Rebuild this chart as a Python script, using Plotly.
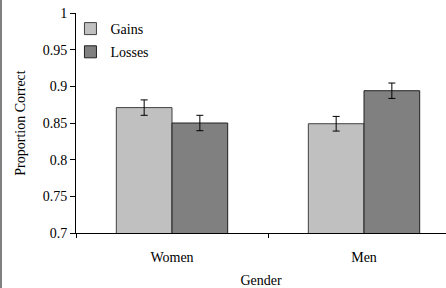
import plotly.graph_objects as go

categories = ["Women", "Men"]
gains = [0.871, 0.849]
gains_err = [0.0105, 0.010]
losses = [0.850, 0.894]
losses_err = [0.0105, 0.0105]
y_ticks = [0.7, 0.75, 0.8, 0.85, 0.9, 0.95, 1.0]
y_ticklabels = ["0.7", "0.75", "0.8", "0.85", "0.9", "0.95", "1"]

FONT = "Liberation Serif"
F = dict(family=FONT, size=14, color="black")

fig = go.Figure()
fig.add_trace(go.Bar(
    x=categories, y=gains, name="Gains",
    marker=dict(color="#C0C0C0", line=dict(color="#404040", width=1)),
    error_y=dict(type="data", array=gains_err, color="black", thickness=1, width=3.5),
    legendgroup="g",
))
fig.add_trace(go.Bar(
    x=categories, y=losses, name="Losses",
    marker=dict(color="#808080", line=dict(color="#202020", width=1)),
    error_y=dict(type="data", array=losses_err, color="black", thickness=1, width=3.5),
    legendgroup="l",
))

fig.update_layout(
    width=446, height=288, autosize=False,
    margin=dict(l=76, r=0, t=13, b=55, pad=0, autoexpand=False),
    paper_bgcolor="white", plot_bgcolor="white",
    font=F,
    barmode="group", bargap=0.42, bargroupgap=0,
    showlegend=True,
    legend=dict(x=-0.015, y=1.0, xanchor="left", yanchor="top",
                bgcolor="rgba(0,0,0,0)", font=F,
                tracegroupgap=2, itemwidth=30),
    xaxis=dict(
        range=[-0.5, 1.427], showline=True, linecolor="black", linewidth=1,
        ticks="outside", tickson="boundaries", ticklen=4, tickcolor="black",
        showgrid=False, zeroline=False, automargin=False, tickfont=F,
        ticklabelstandoff=11,
        title=dict(text="Gender", standoff=11, font=F),
    ),
    yaxis=dict(
        range=[0.7, 1.0], tickvals=y_ticks, ticktext=y_ticklabels,
        showline=True, linecolor="black", linewidth=1,
        ticks="outside", ticklen=5, tickcolor="black",
        showgrid=False, zeroline=False, automargin=False, tickfont=F,
        title=dict(text="Proportion Correct", standoff=13, font=F),
    ),
    shapes=[dict(type="line", xref="paper", yref="paper",
                 x0=(1 - 76) / 370, x1=(1 - 76) / 370, y0=-55 / 220, y1=1 + 13 / 220,
                 line=dict(color="#808080", width=2))],
)

fig.write_html("out.html", config={"displayModeBar": False},
               post_script="document.body.style.margin='0';document.body.style.padding='0';")
